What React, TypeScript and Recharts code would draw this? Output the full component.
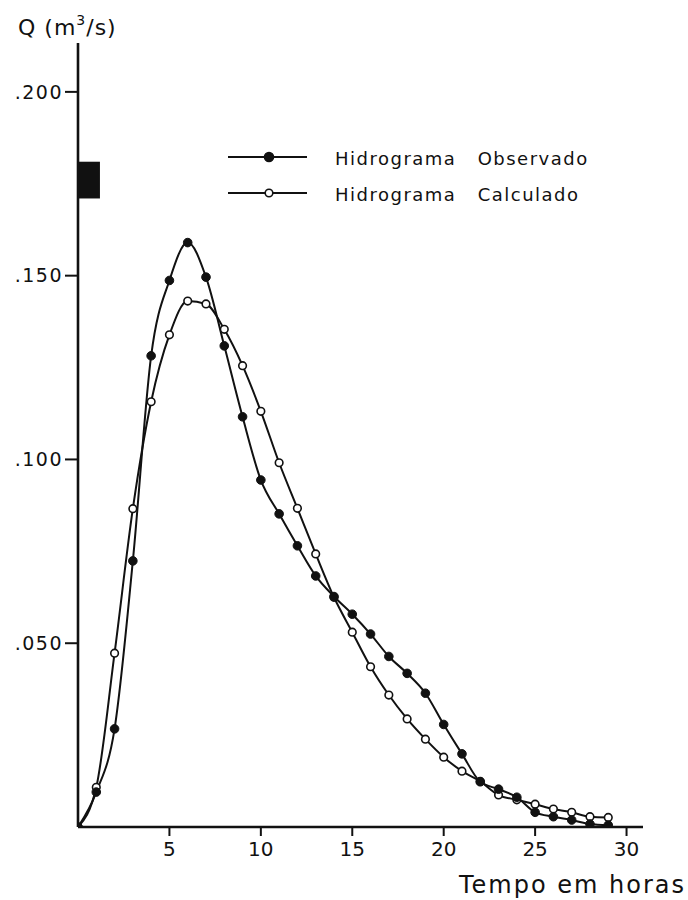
import React from 'react';
import { LineChart, Line, XAxis, YAxis, ReferenceArea, Legend } from 'recharts';

const HOURS = [0, 1, 2, 3, 4, 5, 6, 7, 8, 9, 10, 11, 12, 13, 14, 15, 16, 17, 18, 19, 20, 21, 22, 23, 24, 25, 26, 27, 28, 29];

// Q in m3/s
const OBSERVED = [
    0, 0.0095, 0.0267, 0.0724, 0.1282, 0.1487, 0.1590, 0.1496, 0.1309, 0.1116,
    0.0944, 0.0852, 0.0765, 0.0683, 0.0627, 0.0579, 0.0525, 0.0464, 0.0418, 0.0364,
    0.0279, 0.0199, 0.0123, 0.0103, 0.0081, 0.0040, 0.0028, 0.0019, 0.0008, 0.0005,
];
const CALCULATED = [
    0, 0.0108, 0.0473, 0.0866, 0.1157, 0.1339, 0.1431, 0.1423, 0.1354, 0.1255,
    0.1131, 0.0991, 0.0867, 0.0743, 0.0625, 0.0530, 0.0436, 0.0359, 0.0294, 0.0239,
    0.0190, 0.0152, 0.0124, 0.0087, 0.0074, 0.0062, 0.0049, 0.0040, 0.0028, 0.0026,
];

const X_TICKS = [5, 10, 15, 20, 25, 30];
const Y_TICKS = [0.05, 0.1, 0.15, 0.2];
const SERIES = [
    { key: 'obs', word: 'Hidrograma', kind: 'Observado' },
    { key: 'calc', word: 'Hidrograma', kind: 'Calculado' },
];
// the black block drawn on the Q axis
const BLOCK = { x1: 0, x2: 1.2, y1: 0.171, y2: 0.181 };

const data = HOURS.map((h, i) => ({ hora: h, obs: OBSERVED[i], calc: CALCULATED[i] }));

const FONT = '"DejaVu Sans", sans-serif';
const INK = '#111';

const fmtQ = (v: number) => '.' + String(Math.round(v * 1000)).padStart(3, '0');

// ─── Legend ────────────────────────────────────────────────────────────────────
const HydroLegend = () => (
    <svg width={400} height={90}>
        {SERIES.map((s, i) => {
            const y = 27 + i * 36;
            const filled = s.key === 'obs';
            return (
                <g key={s.key}>
                    <line x1={8} x2={87} y1={y} y2={y} stroke={INK} strokeWidth={2} />
                    <circle cx={49} cy={y} r={filled ? 4.5 : 3.8} fill={filled ? INK : '#fff'} stroke={INK} strokeWidth={1.6} />
                    <text x={115} y={y + 8} fontFamily={FONT} fontSize={18} letterSpacing={1.5} fill={INK}>
                        {s.word}{' '}<tspan dx={14}>{s.kind}</tspan>
                    </text>
                </g>
            );
        })}
    </svg>
);

export default function App() {
    return (
        <div style={{ position: 'absolute', left: 0, top: 0, background: '#fff' }}>
            <LineChart width={688} height={900} data={data} margin={{ top: 43, right: 45, left: 8, bottom: 33 }}>
                <XAxis
                    dataKey="hora" type="number" domain={[0, 30.9]} ticks={X_TICKS} allowDataOverflow
                    axisLine={{ stroke: INK, strokeWidth: 2.6 }} tickLine={{ stroke: INK, strokeWidth: 2 }}
                    tickSize={9} tickMargin={6} height={40}
                    tick={{ fill: INK, fontSize: 20, fontFamily: FONT }}
                    label={({ viewBox }: any) => (
                        <text x={viewBox.x + viewBox.width + 43} y={viewBox.y + 66} textAnchor="end"
                            fontFamily={FONT} fontSize={24} letterSpacing={2} fill={INK}>
                            Tempo em horas
                        </text>
                    )}
                />
                <YAxis
                    type="number" domain={[0, 0.2133]} ticks={Y_TICKS} allowDataOverflow width={70}
                    tickFormatter={fmtQ}
                    axisLine={{ stroke: INK, strokeWidth: 2.6 }} tickLine={{ stroke: INK, strokeWidth: 2 }}
                    tickSize={13} tickMargin={2}
                    tick={{ fill: INK, fontSize: 19, fontFamily: FONT, letterSpacing: 1.5 }}
                    label={({ viewBox }: any) => (
                        <text x={viewBox.x + 10} y={viewBox.y - 8} fontFamily={FONT} fontSize={22} letterSpacing={1} fill={INK}>
                            Q (m<tspan dy={-10} fontSize={14}>3</tspan><tspan dy={10}>/s)</tspan>
                        </text>
                    )}
                />
                <ReferenceArea {...BLOCK} fill={INK} fillOpacity={1} stroke="none" ifOverflow="visible" />
                <Legend
                    content={<HydroLegend />} verticalAlign="middle" align="center"
                    wrapperStyle={{ left: 220, top: 130, width: 400 }}
                />
                <Line
                    dataKey="calc" name="Hidrograma Calculado" type="monotone" stroke={INK} strokeWidth={2}
                    dot={{ r: 3.8, fill: '#fff', stroke: INK, strokeWidth: 1.6 }} isAnimationActive={false}
                />
                <Line
                    dataKey="obs" name="Hidrograma Observado" type="monotone" stroke={INK} strokeWidth={2}
                    dot={{ r: 4.3, fill: INK, stroke: INK, strokeWidth: 1 }} isAnimationActive={false}
                />
            </LineChart>
        </div>
    );
}
